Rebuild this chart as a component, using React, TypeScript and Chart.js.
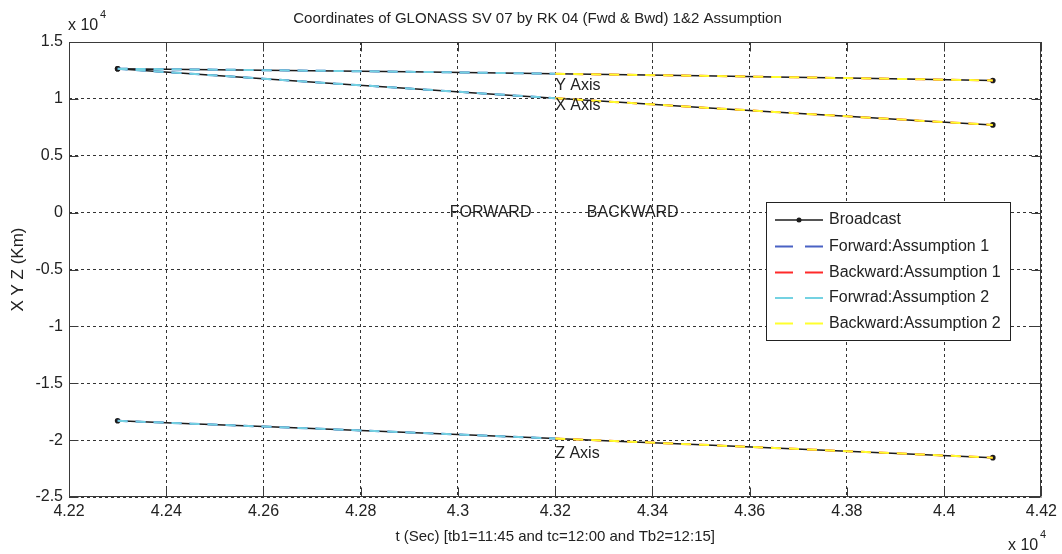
import React, { useEffect, useRef } from "react";
import { Chart, registerables } from "chart.js";

Chart.register(...registerables);

const chartTitle = "Coordinates of GLONASS SV 07 by RK 04 (Fwd & Bwd) 1&2 Assumption";
const xTitle = "t (Sec) [tb1=11:45 and tc=12:00 and Tb2=12:15]";
const yTitle = "X Y Z (Km)";

// time grid (s): tb1 = 42300, tc = 43200, Tb2 = 44100
const timeSec = [42300, 42450, 42600, 42750, 42900, 43050, 43200, 43350, 43500, 43650, 43800, 43950, 44100];
const xAxisKm = [12650, 12210, 11772, 11337, 10907, 10482, 10060, 9650, 9250, 8855, 8465, 8085, 7710];
const yAxisKm = [12650, 12590, 12525, 12455, 12380, 12300, 12210, 12120, 12025, 11928, 11828, 11726, 11620];
const zAxisKm = [-18300, -18550, -18805, -19063, -19325, -19590, -19860, -20132, -20408, -20688, -20970, -21254, -21540];
const tcIndex = 6;

const xTickValues = [42200, 42400, 42600, 42800, 43000, 43200, 43400, 43600, 43800, 44000, 44200];
const xTickLabels = ["4.22", "4.24", "4.26", "4.28", "4.3", "4.32", "4.34", "4.36", "4.38", "4.4", "4.42"];
const yTickValues = [-25000, -20000, -15000, -10000, -5000, 0, 5000, 10000, 15000];
const yTickLabels = ["-2.5", "-2", "-1.5", "-1", "-0.5", "0", "0.5", "1", "1.5"];

const seriesNames = [
  "Broadcast",
  "Forward:Assumption 1",
  "Backward:Assumption 1",
  "Forwrad:Assumption 2",
  "Backward:Assumption 2",
];
const seriesColors = ["#1c1c1c", "#4a62c4", "#ff2a2a", "#74d2e2", "#ffff2e"];

const curveLabels = ["Y Axis", "X Axis", "Z Axis"];
const curveLabelT = [43200, 43200, 43200];
const curveLabelV = [11180, 9410, -21190];
const phaseLabels = ["FORWARD", "BACKWARD"];
const phaseLabelT = [42983, 43265];
const phaseLabelV = [0, 0];

const FONT = "'Liberation Sans', Arial, Helvetica, sans-serif";

function curves(lo: number, hi: number) {
  const pts: any[] = [];
  [xAxisKm, yAxisKm, zAxisKm].forEach((arr, k) => {
    if (k > 0) pts.push({ x: timeSec[hi], y: null });
    for (let i = lo; i <= hi; i++) pts.push({ x: timeSec[i], y: arr[i] });
  });
  return pts;
}

const matlabFrame = {
  id: "matlabFrame",
  afterDraw(chart: any) {
    const { ctx, chartArea: a, scales } = chart;
    const xs = scales.x;
    const ys = scales.y;
    const L = Math.round(a.left) + 0.5;
    const R = Math.round(a.right) - 0.5;
    const T = Math.round(a.top) + 0.5;
    const B = Math.round(a.bottom) - 0.5;
    ctx.save();

    // in-plot labels
    ctx.fillStyle = "#222";
    ctx.font = `16px ${FONT}`;
    ctx.textBaseline = "middle";
    ctx.textAlign = "left";
    curveLabels.forEach((s, i) =>
      ctx.fillText(s, xs.getPixelForValue(curveLabelT[i]), ys.getPixelForValue(curveLabelV[i]))
    );
    phaseLabels.forEach((s, i) =>
      ctx.fillText(s, xs.getPixelForValue(phaseLabelT[i]), ys.getPixelForValue(phaseLabelV[i]))
    );

    // box
    ctx.setLineDash([]);
    ctx.strokeStyle = "#3a3a3a";
    ctx.lineWidth = 1;
    ctx.strokeRect(L, T, R - L, B - T);
    // inward ticks
    const tl = 9;
    ctx.beginPath();
    xTickValues.forEach((v) => {
      const px = Math.round(xs.getPixelForValue(v)) + 0.5;
      ctx.moveTo(px, B);
      ctx.lineTo(px, B - tl);
      ctx.moveTo(px, T);
      ctx.lineTo(px, T + tl);
    });
    yTickValues.forEach((v) => {
      const py = Math.round(ys.getPixelForValue(v)) + 0.5;
      ctx.moveTo(L, py);
      ctx.lineTo(L + tl, py);
      ctx.moveTo(R, py);
      ctx.lineTo(R - tl, py);
    });
    ctx.stroke();

    // title
    ctx.fillStyle = "#222";
    ctx.font = `15px ${FONT}`;
    ctx.textAlign = "center";
    ctx.textBaseline = "middle";
    ctx.fillText(chartTitle, 537.5, 19);

    // exponent labels
    ctx.textAlign = "left";
    ctx.font = `16px ${FONT}`;
    ctx.fillText("x 10", 68, 26);
    ctx.fillText("x 10", 1008, 546);
    ctx.font = `11px ${FONT}`;
    ctx.fillText("4", 100, 15);
    ctx.fillText("4", 1040, 535);

    // legend
    const lx = 766;
    const ly = 202.5;
    const lw = 244;
    const lh = 138;
    ctx.fillStyle = "#ffffff";
    ctx.fillRect(lx, ly, lw, lh);
    ctx.strokeStyle = "#222";
    ctx.lineWidth = 1;
    ctx.strokeRect(lx + 0.5, ly, lw, lh);
    const rows = [220, 246.5, 272.5, 298, 323.5];
    seriesNames.forEach((name, i) => {
      const y = rows[i];
      ctx.strokeStyle = seriesColors[i];
      ctx.lineWidth = i === 0 ? 1.5 : 2;
      ctx.setLineDash(i === 0 ? [] : [18, 12]);
      ctx.beginPath();
      ctx.moveTo(775, y);
      ctx.lineTo(823, y);
      ctx.stroke();
      ctx.setLineDash([]);
      if (i === 0) {
        ctx.fillStyle = seriesColors[0];
        ctx.beginPath();
        ctx.arc(799, y, 2.5, 0, Math.PI * 2);
        ctx.fill();
      }
      ctx.fillStyle = "#222";
      ctx.font = `16px ${FONT}`;
      ctx.textAlign = "left";
      ctx.textBaseline = "middle";
      ctx.fillText(name, 829, y);
    });

    ctx.restore();
  },
};

export default function App() {
  const ref = useRef<HTMLCanvasElement | null>(null);

  useEffect(() => {
    if (!ref.current) return;
    const n = timeSec.length - 1;
    const chart = new Chart(ref.current, {
      type: "line",
      data: {
        datasets: [
          {
            label: seriesNames[0],
            data: curves(0, n),
            borderColor: seriesColors[0],
            backgroundColor: seriesColors[0],
            borderWidth: 1.5,
            pointRadius: (c: any) => {
              const k = c.dataIndex % (n + 2);
              return k === 0 || k === n ? 2.8 : 0;
            },
            pointBorderWidth: 0,
            pointBackgroundColor: seriesColors[0],
            tension: 0,
            spanGaps: false,
            order: 3,
          },
          {
            label: seriesNames[1],
            data: curves(0, tcIndex),
            borderColor: seriesColors[1],
            borderWidth: 2,
            borderDash: [10, 8],
            pointRadius: 0,
            spanGaps: false,
            order: 2,
          },
          {
            label: seriesNames[2],
            data: curves(tcIndex, n),
            borderColor: seriesColors[2],
            borderWidth: 2,
            borderDash: [10, 8],
            pointRadius: 0,
            spanGaps: false,
            order: 2,
          },
          {
            label: seriesNames[3],
            data: curves(0, tcIndex),
            borderColor: seriesColors[3],
            borderWidth: 2,
            borderDash: [10, 8],
            pointRadius: 0,
            spanGaps: false,
            order: 1,
          },
          {
            label: seriesNames[4],
            data: curves(tcIndex, n),
            borderColor: seriesColors[4],
            borderWidth: 2,
            borderDash: [10, 8],
            pointRadius: 0,
            spanGaps: false,
            order: 1,
          },
        ],
      },
      options: {
        animation: false,
        responsive: false,
        devicePixelRatio: 1,
        layout: { padding: { left: 0, top: 42, right: 16, bottom: 0 } },
        plugins: {
          legend: { display: false },
          title: { display: false },
          tooltip: { enabled: false },
        },
        scales: {
          x: {
            type: "linear",
            min: 42200,
            max: 44200,
            afterBuildTicks: (s: any) => {
              s.ticks = xTickValues.map((v) => ({ value: v }));
            },
            afterFit: (s: any) => {
              s.height = 57;
            },
            ticks: {
              callback: (_v: any, i: number) => xTickLabels[i],
              color: "#222",
              font: { family: FONT, size: 16 },
              padding: 5,
              maxRotation: 0,
              autoSkip: false,
            },
            grid: { color: "#333", lineWidth: 1, drawTicks: false },
            border: { display: false, dash: [3, 3] },
            title: {
              display: true,
              text: xTitle,
              color: "#222",
              font: { family: FONT, size: 15 },
              padding: { top: 0, bottom: 8 },
            },
          },
          y: {
            type: "linear",
            min: -25000,
            max: 15000,
            afterBuildTicks: (s: any) => {
              s.ticks = yTickValues.map((v) => ({ value: v }));
            },
            afterFit: (s: any) => {
              s.width = 69;
            },
            ticks: {
              callback: (_v: any, i: number) => yTickLabels[i],
              color: "#222",
              font: { family: FONT, size: 16 },
              padding: 6,
              autoSkip: false,
            },
            grid: { color: "#333", lineWidth: 1, drawTicks: false },
            border: { display: false, dash: [3, 3] },
            title: {
              display: true,
              text: yTitle,
              color: "#222",
              font: { family: FONT, size: 17 },
              padding: { top: 8, bottom: 0 },
            },
          },
        },
      },
      plugins: [matlabFrame],
    } as any);
    return () => chart.destroy();
  }, []);

  return (
    <div style={{ position: "absolute", left: 0, top: 0, width: 1062, height: 554, background: "#fff" }}>
      <canvas ref={ref} width={1062} height={554} style={{ display: "block" }} />
    </div>
  );
}
